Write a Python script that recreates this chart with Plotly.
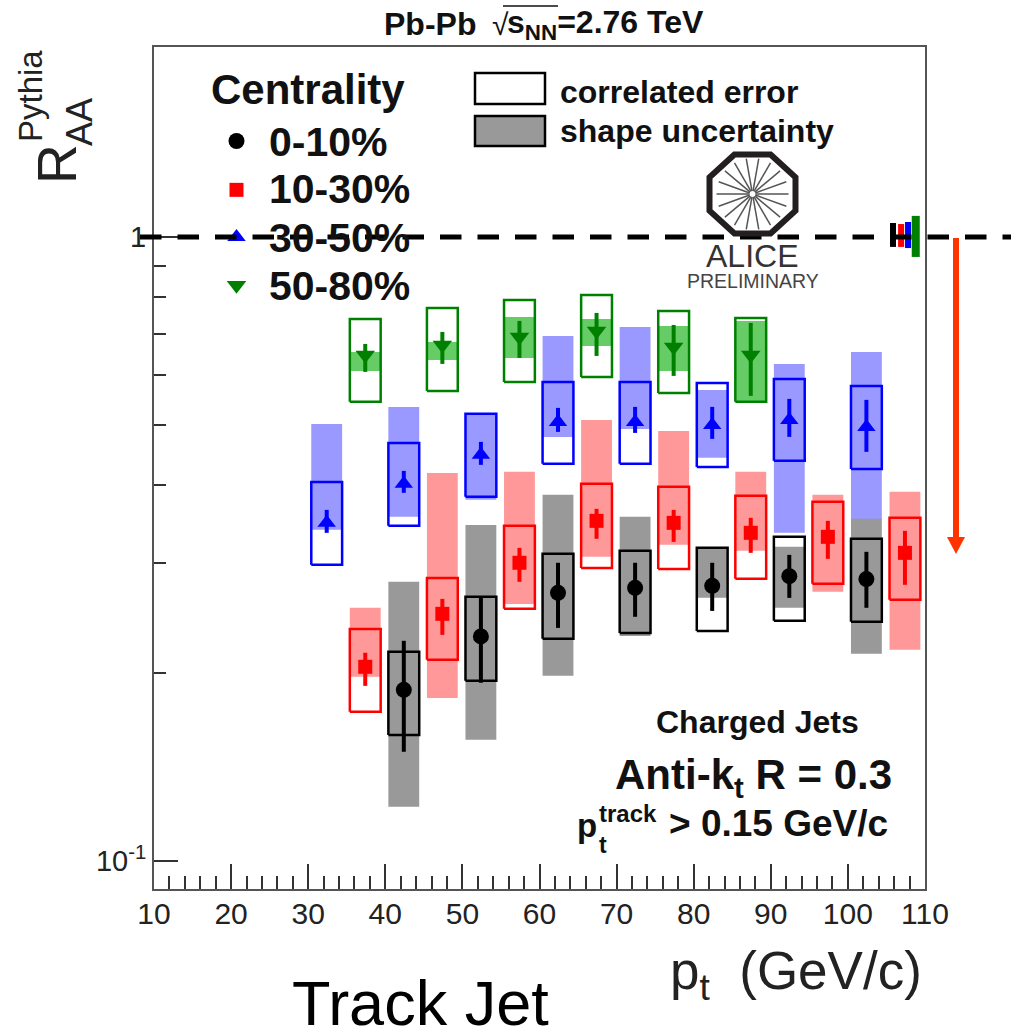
import math
import plotly.graph_objects as go

# ---------- data ----------
x_black = [42.4, 52.4, 62.4, 72.4, 82.4, 92.4, 102.4]
val_black = [0.188, 0.229, 0.269, 0.274, 0.276, 0.286, 0.283]
stat_lo_black = [0.1496, 0.193, 0.2363, 0.2462, 0.2516, 0.264, 0.2545]
stat_hi_black = [0.2253, 0.265, 0.3005, 0.3005, 0.3005, 0.3094, 0.3129]
box_hi_black = [0.2164, 0.265, 0.3106, 0.314, 0.3175, 0.3307, 0.3283]
box_lo_black = [0.1592, 0.1944, 0.227, 0.232, 0.2337, 0.2426, 0.2417]
band_hi_black = [0.2801, 0.3456, 0.3861, 0.356, 0.3163, 0.3187, 0.3534]
band_lo_black = [0.1221, 0.1564, 0.198, 0.2294, 0.264, 0.2545, 0.2148]

x_red = [37.4, 47.4, 57.4, 67.4, 77.4, 87.4, 97.4, 107.4]
val_red = [0.2047, 0.2489, 0.3005, 0.3508, 0.3482, 0.3356, 0.3307, 0.3117]
stat_lo_red = [0.1908, 0.2303, 0.2801, 0.3283, 0.3246, 0.3117, 0.3049, 0.277]
stat_hi_red = [0.2156, 0.263, 0.3175, 0.3667, 0.3653, 0.3547, 0.3508, 0.3381]
box_hi_red = [0.2354, 0.2842, 0.3444, 0.4021, 0.3977, 0.3847, 0.3763, 0.3547]
box_lo_red = [0.1734, 0.2101, 0.2535, 0.2949, 0.2938, 0.2832, 0.278, 0.2621]
band_hi_red = [0.2545, 0.4187, 0.4203, 0.5091, 0.4889, 0.4203, 0.3861, 0.3904]
band_lo_red = [0.1973, 0.1825, 0.2582, 0.3072, 0.3211, 0.314, 0.27, 0.218]

x_blue = [32.4, 42.4, 52.4, 62.4, 72.4, 82.4, 92.4, 102.4]
val_blue = [0.3482, 0.4021, 0.4475, 0.5054, 0.5054, 0.4998, 0.5091, 0.4962]
stat_lo_blue = [0.3356, 0.389, 0.4313, 0.4871, 0.4853, 0.4747, 0.4782, 0.4525]
stat_hi_blue = [0.3653, 0.4218, 0.4695, 0.5322, 0.5342, 0.5342, 0.5502, 0.5482]
box_hi_blue = [0.405, 0.4677, 0.5206, 0.5858, 0.5858, 0.5836, 0.5923, 0.5772]
box_lo_blue = [0.2983, 0.3444, 0.3833, 0.4329, 0.4329, 0.4281, 0.4377, 0.4249]
band_hi_blue = [0.5017, 0.5342, 0.5206, 0.694, 0.7175, 0.5688, 0.626, 0.6543]
band_lo_blue = [0.3393, 0.356, 0.3791, 0.4782, 0.4925, 0.4426, 0.3356, 0.3521]

x_green = [37.4, 47.4, 57.4, 67.4, 77.4, 87.4]
val_green = [0.6471, 0.6714, 0.6915, 0.707, 0.6665, 0.6471]
stat_lo_green = [0.6078, 0.626, 0.64, 0.6447, 0.5989, 0.5563]
stat_hi_green = [0.6739, 0.7044, 0.7336, 0.7556, 0.7228, 0.7282]
box_hi_green = [0.739, 0.7696, 0.7927, 0.8074, 0.7611, 0.7417]
box_lo_green = [0.5442, 0.5667, 0.5858, 0.5967, 0.5625, 0.5442]
band_hi_green = [0.6543, 0.6788, 0.7445, 0.739, 0.7202, 0.7336]
band_lo_green = [0.61, 0.6353, 0.64, 0.6689, 0.61, 0.5442]

# normalisation uncertainties at R_AA = 1
norm_x = [105.85, 106.9, 107.8, 108.8]
norm_half = [0.39, 0.39, 0.39, 0.52]
norm_hi = [1.053, 1.049, 1.057, 1.081]
norm_lo = [0.964, 0.964, 0.96, 0.929]

series_names = ["0-10%", "10-30%", "30-50%", "50-80%"]
legend_key_x = 20.7
legend_key_y = [1.425, 1.19, 1.0, 0.837]

x_ticks = [10, 20, 30, 40, 50, 60, 70, 80, 90, 100, 110]
y_ticks = [0.1, 1]
y_tick_text = ["10<sup>-1</sup>", "1"]
y_minor = [0.2, 0.3, 0.4, 0.5, 0.6, 0.7, 0.8, 0.9]

# ---------- layout constants ----------
W, H = 1011, 1031
L, R, T, B = 154, 925, 47, 889
FONT = "Liberation Sans"
BOX_HALF = 2.0


def px(x):
    return (x - L) / (R - L)


def py(y):
    return (B - y) / (B - T)


def rects(xs, lo, hi, half):
    ox, oy = [], []
    for c, a, b in zip(xs, lo, hi):
        ox += [c - half, c + half, c + half, c - half, c - half, None]
        oy += [a, a, b, b, a, None]
    return ox, oy


fig = go.Figure()

groups = [
    dict(x=x_green, v=val_green, sl=stat_lo_green, sh=stat_hi_green, bl=box_lo_green, bh=box_hi_green,
         gl=band_lo_green, gh=band_hi_green, line="#008000", fill="#66CC66", sym="triangle-down", size=17),
    dict(x=x_blue, v=val_blue, sl=stat_lo_blue, sh=stat_hi_blue, bl=box_lo_blue, bh=box_hi_blue,
         gl=band_lo_blue, gh=band_hi_blue, line="#0000FF", fill="#9999FF", sym="triangle-up", size=16),
    dict(x=x_red, v=val_red, sl=stat_lo_red, sh=stat_hi_red, bl=box_lo_red, bh=box_hi_red,
         gl=band_lo_red, gh=band_hi_red, line="#FF0000", fill="#FF9999", sym="square", size=14),
    dict(x=x_black, v=val_black, sl=stat_lo_black, sh=stat_hi_black, bl=box_lo_black, bh=box_hi_black,
         gl=band_lo_black, gh=band_hi_black, line="#000000", fill="#999999", sym="circle", size=16),
]

# shape-uncertainty bands
for g in groups:
    ox, oy = rects(g["x"], g["gl"], g["gh"], BOX_HALF)
    fig.add_trace(go.Scatter(x=ox, y=oy, mode="lines", fill="toself", fillcolor=g["fill"],
                             line=dict(width=0, color=g["fill"]), hoverinfo="skip", showlegend=False))
# correlated-error boxes
for g in groups:
    ox, oy = rects(g["x"], g["bl"], g["bh"], BOX_HALF)
    fig.add_trace(go.Scatter(x=ox, y=oy, mode="lines", line=dict(width=2.5, color=g["line"]),
                             hoverinfo="skip", showlegend=False))
# points with statistical errors
for g in groups:
    fig.add_trace(go.Scatter(
        x=g["x"], y=g["v"], mode="markers",
        marker=dict(symbol=g["sym"], size=g["size"], color=g["line"]),
        error_y=dict(type="data", symmetric=False,
                     array=[h - v for h, v in zip(g["sh"], g["v"])],
                     arrayminus=[v - l for v, l in zip(g["v"], g["sl"])],
                     thickness=4, width=0, color=g["line"]),
        showlegend=False))

# normalisation boxes
norm_colors = ["#000000", "#FF0000", "#0000FF", "#008000"]
for i in range(4):
    ox, oy = rects([norm_x[i]], [norm_lo[i]], [norm_hi[i]], norm_half[i])
    fig.add_trace(go.Scatter(x=ox, y=oy, mode="lines", fill="toself", fillcolor=norm_colors[i],
                             line=dict(width=0, color=norm_colors[i]), hoverinfo="skip",
                             showlegend=False, cliponaxis=False))

# legend keys
key_order = [3, 2, 1, 0]
for i, k in enumerate(key_order):
    g = groups[k]
    fig.add_trace(go.Scatter(x=[legend_key_x], y=[legend_key_y[i]], mode="markers",
                             marker=dict(symbol=g["sym"], size=g["size"], color=g["line"]),
                             name=series_names[i], showlegend=False))

shapes = []
# dashed line at 1
shapes.append(dict(type="line", xref="paper", yref="y", x0=px(140), x1=px(1011), y0=1, y1=1, layer="above",
                   line=dict(color="black", width=5, dash="21.5px,16px")))
# uncertainty legend boxes
shapes.append(dict(type="rect", xref="paper", yref="paper", x0=px(475), x1=px(545), y0=py(104), y1=py(73),
                   line=dict(color="black", width=2.5), fillcolor="white"))
shapes.append(dict(type="rect", xref="paper", yref="paper", x0=px(475), x1=px(545), y0=py(146), y1=py(116),
                   line=dict(color="black", width=2.5), fillcolor="#999999"))
# sqrt bar
shapes.append(dict(type="line", xref="paper", yref="paper", x0=px(503), x1=px(558), y0=py(6), y1=py(6),
                   line=dict(color="#111", width=1.5)))
# red arrow
shapes.append(dict(type="line", xref="paper", yref="paper", x0=px(956), x1=px(956), y0=py(238), y1=py(540),
                   line=dict(color="#FF3300", width=6)))
ah = "M %f %f L %f %f L %f %f Z" % (px(947), py(537), px(965), py(537), px(956), py(554))
shapes.append(dict(type="path", xref="paper", yref="paper", path=ah, fillcolor="#FF3300",
                   line=dict(color="#FF3300", width=0)))
# ALICE logo
cx, cy = 752.5, 194.0
rx, ry = 43.0, 39.5
k = 0.42
pts = [(-k, -1), (k, -1), (1, -k), (1, k), (k, 1), (-k, 1), (-1, k), (-1, -k)]
logo = "M " + " L ".join("%f %f" % (px(cx + a * rx), py(cy + b * ry)) for a, b in pts) + " Z"
shapes.append(dict(type="path", xref="paper", yref="paper", path=logo, fillcolor="white",
                   line=dict(color="#231F20", width=6)))
for n in range(18):
    ang = math.radians(20 * n)
    shapes.append(dict(type="line", xref="paper", yref="paper",
                       x0=px(cx + 3 * math.cos(ang)), y0=py(cy + 3 * math.sin(ang)),
                       x1=px(cx + 36 * math.cos(ang)), y1=py(cy + 36 * math.sin(ang)),
                       line=dict(color="#555", width=1.5)))


def note(text, x, y, size, bold=False, xa="left", color="#111", angle=0):
    if bold:
        text = "<b>%s</b>" % text
    return dict(text=text, xref="paper", yref="paper", x=px(x), y=py(y), xanchor=xa, yanchor="middle",
                showarrow=False, textangle=angle, font=dict(family=FONT, size=size, color=color))


ann = [
    note("Pb-Pb", 382, 24, 32, True),
    note("√", 490, 24, 30, False),
    note("s<sub>NN</sub>=2.76 TeV", 505, 24, 32, True),
    note("Centrality", 209, 90, 42, True),
    note(series_names[0], 267, 142, 41, True),
    note(series_names[1], 267, 189, 41, True),
    note(series_names[2], 267, 238, 41, True),
    note(series_names[3], 267, 286, 41, True),
    note("correlated error", 558, 92, 32, True),
    note("shape uncertainty", 558, 131, 32, True),
    note("ALICE", 752, 256, 32, False, "center", "#333"),
    note("PRELIMINARY", 753, 281, 19.5, False, "center", "#444"),
    note("Charged Jets", 757, 722, 32, True, "center"),
    note("Anti-k<sub>t</sub> R = 0.3", 613, 777, 42, True),
    note("p", 575, 825, 33, True),
    note("track", 597, 813, 24, True),
    note("t", 597, 845, 23, True),
    note("&gt; 0.15 GeV/c", 667, 823, 37, True),
    note("R", 57, 164, 55, False, "center", "#222", -90),
    note("AA", 80, 122, 36, False, "center", "#222", -90),
    note("Pythia", 31, 96, 33, False, "center", "#222", -90),
    note("Track Jet", 290, 1003, 63, False, "left", "#000"),
    note("p<sub>t</sub>&nbsp; (GeV/c)", 668, 974, 53, False, "left", "#222"),
]

fig.update_layout(
    width=W, height=H, autosize=False, showlegend=False,
    margin=dict(l=L, r=W - R, t=T, b=H - B, pad=0),
    paper_bgcolor="white", plot_bgcolor="white",
    shapes=shapes, annotations=ann,
    font=dict(family=FONT),
    xaxis=dict(range=[10, 110], tickmode="array", tickvals=x_ticks, ticks="inside", ticklen=25, tickwidth=1.5,
               tickcolor="#333", showgrid=False, zeroline=False, showline=True, mirror=True,
               linecolor="#555", linewidth=2, tickfont=dict(family=FONT, size=30, color="#222"),
               ticklabelstandoff=-3,
               minor=dict(tick0=10, dtick=2, ticks="inside", ticklen=13, tickwidth=1.5, tickcolor="#333",
                          showgrid=False)),
    yaxis=dict(type="log", range=[-1.045, 0.3045], tickmode="array", tickvals=y_ticks, ticktext=y_tick_text,
               ticks="inside", ticklen=24, tickwidth=1.5, tickcolor="#333", showgrid=False, zeroline=False,
               showline=True, mirror=True, linecolor="#555", linewidth=2,
               tickfont=dict(family=FONT, size=29, color="#222"),
               minor=dict(tickmode="array", tickvals=y_minor, ticks="inside", ticklen=12, tickwidth=1.5,
                          tickcolor="#333", showgrid=False)),
)

fig.write_html("out.html", config={"displayModeBar": False},
               post_script="document.body.style.margin='0';document.body.style.overflow='hidden';")
